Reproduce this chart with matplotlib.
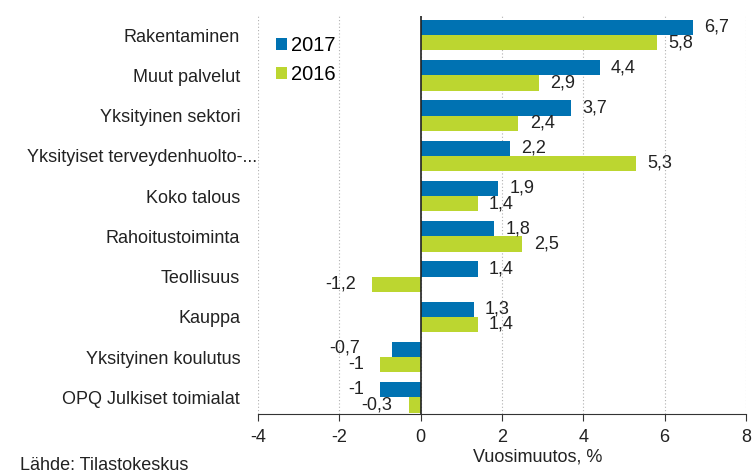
import numpy as np
import matplotlib.pyplot as plt
from matplotlib.transforms import ScaledTranslation

plt.rcParams['font.family'] = ['Liberation Sans', 'DejaVu Sans']

categories = ["Rakentaminen", "Muut palvelut", "Yksityinen sektori",
              "Yksityiset terveydenhuolto-...", "Koko talous", "Rahoitustoiminta",
              "Teollisuus", "Kauppa", "Yksityinen koulutus", "OPQ Julkiset toimialat"]
values_2017 = [6.7, 4.4, 3.7, 2.2, 1.9, 1.8, 1.4, 1.3, -0.7, -1.0]
values_2016 = [5.8, 2.9, 2.4, 5.3, 1.4, 2.5, -1.2, 1.4, -1.0, -0.3]
xticks = [-4, -2, 0, 2, 4, 6, 8]

blue = "#0072b2"
green = "#bcd630"
txt = "#222222"
fs = 13


def fmt(v):
    # Finnish decimal comma, drop trailing ",0"
    s = ("%.1f" % v).replace(".", ",")
    if s.endswith(",0"):
        s = s[:-2]
    return s


fig = plt.figure(figsize=(7.55, 4.75), dpi=100)
ax = fig.add_axes([0.342, 0.128, 0.646, 0.838])

y = np.arange(len(categories))
h = 0.38
b1 = ax.barh(y - h / 2, values_2017, height=h, color=blue, label="2017", zorder=3)
b2 = ax.barh(y + h / 2, values_2016, height=h, color=green, label="2016", zorder=3)

# value labels next to bar ends
for i in range(len(categories)):
    v17, v16 = values_2017[i], values_2016[i]
    for bar, v in [(b1[i], v17), (b2[i], v16)]:
        cy = bar.get_y() + bar.get_height() / 2
        if v >= 0:
            ax.text(v + 0.28, cy, fmt(v), va="center", ha="left", fontsize=fs, color=txt, zorder=4)
        else:
            xpos = v - 0.4
            # upper negative label moves out of the way of a longer bar below it
            if v is v17 and v16 < v17 < 0:
                xpos = v16 - 0.5
                cy -= 0.04
            ax.text(xpos, cy, fmt(v), va="center", ha="right", fontsize=fs, color=txt, zorder=4)

ax.set_ylim(len(categories) - 1 + 0.42, -0.47)
ax.set_xlim(-4, 8)
ax.set_yticks(y)
ax.set_yticklabels(categories, fontsize=fs, color=txt)
ax.set_xticks(xticks)
ax.set_xticklabels([str(t) for t in xticks], fontsize=fs, color=txt)
ax.tick_params(axis="y", length=0, pad=13)
ax.tick_params(axis="x", length=5, color="#333333", direction="out", pad=6)

# the truncated long label sits further right in the original
long_lab = ax.get_yticklabels()[3]
long_lab.set_transform(long_lab.get_transform() + ScaledTranslation(17 / 100, 0, fig.dpi_scale_trans))

ax.grid(axis="x", linestyle=(0, (1, 2)), color="#b0b0b0", linewidth=0.8, zorder=0)
ax.axvline(0, color="#222222", linewidth=1.2, zorder=5)
for s in ["top", "right", "left"]:
    ax.spines[s].set_visible(False)
ax.spines["bottom"].set_color("#333333")

ax.legend(loc="upper left", bbox_to_anchor=(0.02, 0.97), frameon=False,
          fontsize=14.5, handlelength=0.55, handleheight=0.55, handletextpad=0.2,
          labelspacing=0.5, borderaxespad=0)

fig.text(0.712, 0.038, "Vuosimuutos, %", ha="center", va="center", fontsize=fs, color=txt)
fig.text(0.027, 0.021, "Lähde: Tilastokeskus", ha="left", va="center", fontsize=fs, color=txt)

fig.savefig("out.png", dpi=100)
